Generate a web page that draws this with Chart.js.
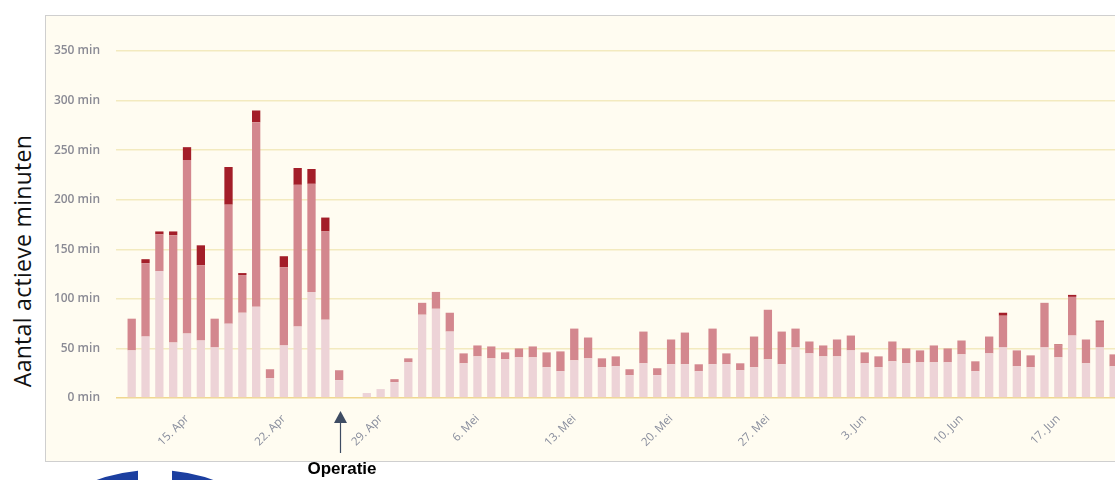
<!DOCTYPE html>
<html>
<head>
<meta charset="utf-8">
<script src="https://cdn.jsdelivr.net/npm/chart.js@4"></script>
<style>
  html, body { margin: 0; padding: 0; background: #fff; width: 1115px; height: 480px; overflow: hidden; }
  #box { position: absolute; left: 45px; top: 15px; width: 1110px; height: 445px; background: #fffcf1; border: 1px solid #cfcfcf; }
  #wrap { position: absolute; left: 46px; top: 16px; width: 1100px; height: 446px; }
  #ytitle { position: absolute; left: 22px; top: 261px; transform: translate(-50%, -50%) rotate(-90deg);
            font-family: "Open Sans", sans-serif; font-size: 23px; letter-spacing: 0.3px; color: #111; white-space: nowrap; }
  #operatie { position: absolute; left: 342px; top: 459px; transform: translateX(-50%);
              font-family: "Liberation Sans", Arial, sans-serif; font-weight: bold; font-size: 17px; color: #000; }
  #logo { position: absolute; left: -25px; top: 470px; width: 360px; height: 360px; border-radius: 50%;
          border: 40px solid #1c3fa0; box-sizing: border-box; }
  #logogap { position: absolute; left: 138px; top: 460px; width: 34px; height: 20px; background: #fff; }
</style>
</head>
<body>
<div id="logo"></div>
<div id="logogap"></div>
<div id="box"></div>
<div id="wrap"><canvas id="activityChart"></canvas></div>
<div id="ytitle">Aantal actieve minuten</div>
<div id="operatie">Operatie</div>
<script>
const dagen = [
  "11. Apr", "12. Apr", "13. Apr", "14. Apr", "15. Apr", "16. Apr", "17. Apr", "18. Apr", "19. Apr", "20. Apr",
  "21. Apr", "22. Apr", "23. Apr", "24. Apr", "25. Apr", "26. Apr", "27. Apr", "28. Apr", "29. Apr", "30. Apr",
  "1. Mei", "2. Mei", "3. Mei", "4. Mei", "5. Mei", "6. Mei", "7. Mei", "8. Mei", "9. Mei", "10. Mei",
  "11. Mei", "12. Mei", "13. Mei", "14. Mei", "15. Mei", "16. Mei", "17. Mei", "18. Mei", "19. Mei", "20. Mei",
  "21. Mei", "22. Mei", "23. Mei", "24. Mei", "25. Mei", "26. Mei", "27. Mei", "28. Mei", "29. Mei", "30. Mei",
  "31. Mei", "1. Jun", "2. Jun", "3. Jun", "4. Jun", "5. Jun", "6. Jun", "7. Jun", "8. Jun", "9. Jun",
  "10. Jun", "11. Jun", "12. Jun", "13. Jun", "14. Jun", "15. Jun", "16. Jun", "17. Jun", "18. Jun", "19. Jun",
  "20. Jun", "21. Jun"
];

const licht = [
  48, 62, 128, 56, 65, 58, 51, 75, 86, 92,
  20, 53, 72, 107, 79, 18, 0, 5, 9, 16,
  36, 84, 90, 67, 35, 42, 40, 39, 41, 41,
  31, 27, 38, 40, 31, 32, 23, 35, 23, 34,
  34, 27, 34, 34, 28, 31, 39, 34, 51, 45,
  42, 42, 48, 35, 31, 37, 35, 36, 36, 36,
  44, 27, 45, 51, 32, 31, 51, 41, 63, 35,
  51, 32
];
const matig = [
  32, 74, 37, 108, 175, 76, 29, 120, 38, 186,
  9, 79, 143, 109, 89, 10, 0, 0, 0, 3,
  4, 12, 17, 19, 10, 11, 12, 7, 9, 11,
  15, 20, 32, 21, 9, 10, 6, 32, 7, 25,
  32, 7, 36, 11, 7, 31, 50, 33, 19, 12,
  11, 17, 15, 11, 11, 20, 15, 12, 17, 14,
  14, 10, 17, 32, 16, 12, 45, 12, 39, 24,
  26, 12
];
const intensief = [
  0, 4, 3, 4, 13, 20, 0, 38, 2, 12,
  0, 11, 17, 15, 14, 0, 0, 0, 0, 0,
  0, 0, 0, 0, 0, 0, 0, 0, 0, 0,
  0, 0, 0, 0, 0, 0, 0, 0, 0, 0,
  0, 0, 0, 0, 0, 0, 0, 0, 0, 0,
  0, 0, 0, 0, 0, 0, 0, 0, 0, 0,
  0, 0, 0, 3, 0, 0, 0, 1, 2, 0,
  1, 0
];

const tickDagen = [4, 11, 18, 25, 32, 39, 46, 53, 60, 67];
const tickLabels = ["15. Apr", "22. Apr", "29. Apr", "6. Mei", "13. Mei", "20. Mei", "27. Mei", "3. Jun", "10. Jun", "17. Jun"];
const yTicks = [0, 50, 100, 150, 200, 250, 300, 350];
const operatieDag = 15;

function punten(reeks) {
  return reeks.map((v, i) => ({ x: i, y: v }));
}

// pijltje onder de x-as bij de dag van de operatie
const operatiePijl = {
  id: "operatiePijl",
  afterDraw(chart) {
    const ctx = chart.ctx;
    const x = Math.round(chart.scales.x.getPixelForValue(operatieDag)) + 1.5;
    const top = chart.chartArea.bottom + 13;
    ctx.save();
    ctx.strokeStyle = "#3e4c63";
    ctx.fillStyle = "#3e4c63";
    ctx.lineWidth = 1.2;
    ctx.beginPath();
    ctx.moveTo(x, top + 10);
    ctx.lineTo(x, top + 42);
    ctx.stroke();
    ctx.beginPath();
    ctx.moveTo(x, top);
    ctx.lineTo(x - 6.5, top + 12);
    ctx.lineTo(x + 6.5, top + 12);
    ctx.closePath();
    ctx.fill();
    ctx.restore();
  }
};

const activityChart = document.querySelector("#activityChart");
const graph = new Chart(activityChart, {
  type: "bar",
  data: {
    datasets: [
      { label: "Licht actief", data: punten(licht), backgroundColor: "#edd3d7" },
      { label: "Redelijk actief", data: punten(matig), backgroundColor: "#d3878e" },
      { label: "Zeer actief", data: punten(intensief), backgroundColor: "#a31e29" },
    ],
  },
  options: {
    responsive: true,
    maintainAspectRatio: false,
    animation: false,
    layout: { padding: { top: 35, left: 0, right: 0, bottom: 0 } },
    datasets: { bar: { categoryPercentage: 1, barPercentage: 0.6 } },
    plugins: {
      legend: { display: false },
      tooltip: {
        callbacks: { title: (items) => dagen[items[0].parsed.x] },
      },
    },
    scales: {
      x: {
        type: "linear",
        stacked: true,
        offset: false,
        min: -1.135,
        max: 73.34,
        grid: { display: false, offset: false },
        border: { display: false },
        afterBuildTicks: (scale) => { scale.ticks = tickDagen.map((v) => ({ value: v })); },
        afterFit: (scale) => { scale.height = 64; },
        ticks: {
          autoSkip: false,
          minRotation: 45,
          maxRotation: 45,
          padding: 6,
          color: "#878c9c",
          font: { family: "Open Sans", size: 11.5 },
          callback: (v) => tickLabels[tickDagen.indexOf(v)],
        },
      },
      y: {
        stacked: true,
        min: 0,
        max: 350,
        border: { display: false },
        afterBuildTicks: (scale) => { scale.ticks = yTicks.map((v) => ({ value: v })); },
        afterFit: (scale) => { scale.width = 70; },
        grid: {
          drawTicks: false,
          color: (c) => (c.tick && c.tick.value === 0 ? "#f0d78f" : "#f3eabf"),
          lineWidth: 1.5,
        },
        ticks: {
          padding: 16,
          color: "#8a8a94",
          font: { family: "Open Sans", size: 12, weight: "600" },
          callback: (v) => v + " min",
        },
      },
    },
  },
  plugins: [operatiePijl],
});
</script>
</body>
</html>
